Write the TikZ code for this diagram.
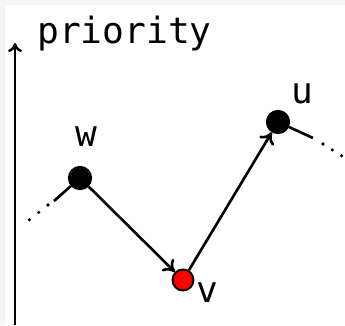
\documentclass[tikz,border=0pt]{standalone}
\usepackage{fontspec}
\setmonofont{DejaVu Sans Mono}
\usetikzlibrary{arrows.meta}
\definecolor{FrameGray}{RGB}{245,245,245}

\begin{document}
\begin{tikzpicture}[
  x=0.02cm, y=-0.02cm,
  font=\ttfamily\fontsize{20.6}{24}\selectfont,
  dot/.style={circle, draw, fill=black, line width=1pt, minimum size=0.45cm, inner sep=0pt},
  arr/.style={line width=1.5pt, -{To[length=2.2mm, width=3.4mm]}},
  seg/.style={line width=1.5pt},
  dots/.style={line width=2pt, line cap=round},
  lbl/.style={inner sep=0pt, anchor=base}
]
  % frame
  \fill[FrameGray] (0,0) rectangle (345,325);
  \fill[white] (5,5) rectangle (345,325);
  \useasboundingbox (0,0) rectangle (345,325);

  % axis
  \coordinate (axbot) at (15,325);
  \coordinate (axtop) at (15,43);
  \draw[line width=1.4pt, -{To[length=1.8mm, width=2.8mm]}] (axbot) -- (axtop);
  \node[lbl, anchor=base west] (title) at (37,43) {priority};

  % vertices
  \node[dot] (w) at (80,178) {};
  \node[dot, fill=red, line width=1.1pt, minimum size=0.42cm] (v) at (183,280) {};
  \node[dot] (u) at (278,122) {};
  \node[lbl] (wlab) at (86,146) {w};
  \node[lbl] (vlab) at (207,302) {v};
  \node[lbl] (ulab) at (302,103) {u};

  % path
  \draw[arr] (w) -- (v);
  \draw[arr] (v) -- (u);

  % loose ends
  \coordinate (wa) at (54,201);
  \coordinate (wb) at (48,205);
  \coordinate (wc) at (29,220);
  \coordinate (ua) at (313,138);
  \coordinate (ub) at (323,144);
  \coordinate (uc) at (342,156);
  \draw[seg] (w) -- (wa);
  \draw[dots, dash pattern=on 0pt off 0.238cm] (wb) -- (wc);
  \draw[seg] (u) -- (ua);
  \draw[dots, dash pattern=on 0pt off 0.22cm] (ub) -- (uc);
\end{tikzpicture}
\end{document}
